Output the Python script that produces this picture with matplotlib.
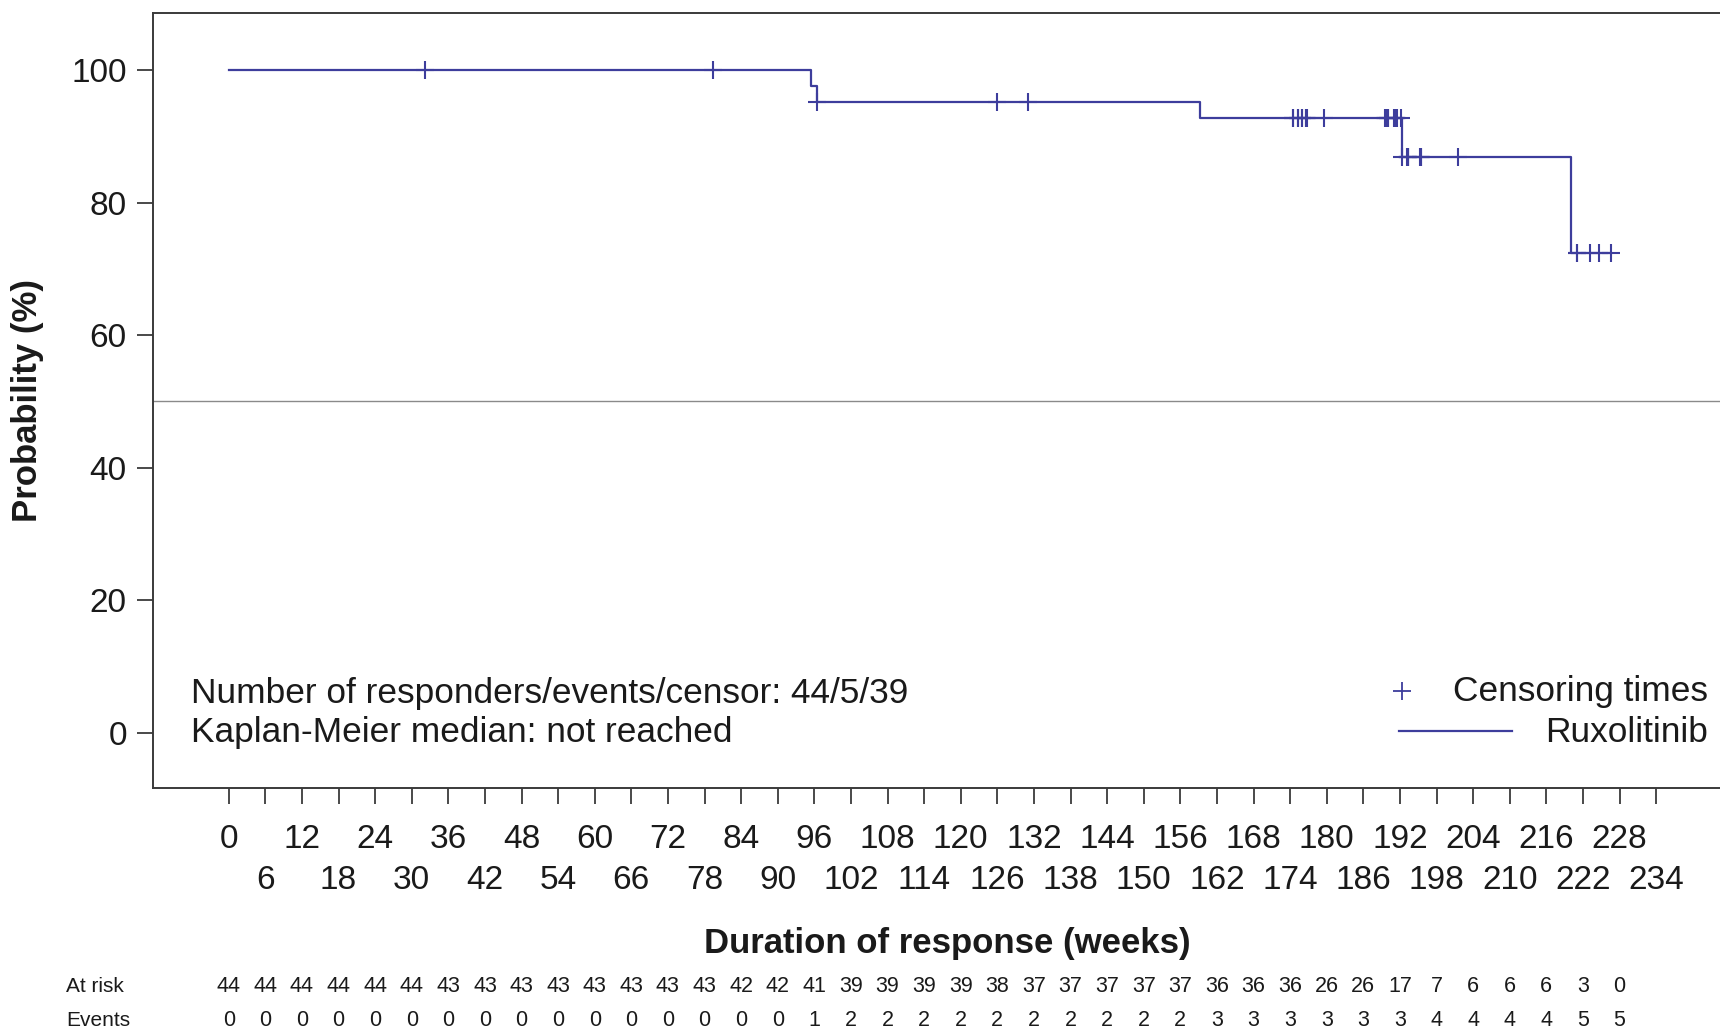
import matplotlib
matplotlib.use("Agg")
import matplotlib.pyplot as plt
import matplotlib.transforms as mtransforms
import numpy as np

plt.rcParams["font.family"] = ["Liberation Sans", "DejaVu Sans"]

# Kaplan-Meier steps for duration of response (weeks, %)
step_weeks = [0, 95.4, 96.5, 159.3, 192.4, 220.1]
step_surv = [100, 97.6, 95.2, 92.7, 86.9, 72.4]

# censored responders (weeks)
censor_weeks = [
    32.2, 79.4, 96.5, 125.9, 131.0,
    174.4, 174.5, 175.3, 175.3, 175.9, 175.9, 176.6, 176.6, 176.7, 179.5,
    189.6, 189.7, 190.0, 190.1, 191.1, 191.2, 191.3, 191.4, 191.5,
    192.1, 192.4, 193.2, 193.3, 193.3, 193.4, 195.3, 195.4, 195.5,
    201.5, 221.0, 221.1, 223.2, 224.6, 226.6,
]

table_weeks = list(range(0, 229, 6))
at_risk = [44, 44, 44, 44, 44, 44, 43, 43, 43, 43, 43, 43, 43, 43, 42, 42, 41,
           39, 39, 39, 39, 38, 37, 37, 37, 37, 37, 36, 36, 36, 26, 26, 17, 7,
           6, 6, 6, 3, 0]
events = [0, 0, 0, 0, 0, 0, 0, 0, 0, 0, 0, 0, 0, 0, 0, 0, 1,
          2, 2, 2, 2, 2, 2, 2, 2, 2, 2, 3, 3, 3, 3, 3, 3, 4,
          4, 4, 4, 5, 5]

major_weeks = list(range(0, 229, 12))
minor_weeks = list(range(6, 235, 12))
y_ticks = [0, 20, 40, 60, 80, 100]

curve_color = "#3d3d9c"
text_color = "#1a1a1a"
spine_color = "#3a3a3a"

W, H = 1720, 1033
fig = plt.figure(figsize=(W / 100, H / 100), dpi=100)

# axes box runs past the right edge of the page
left, right, top, bottom = 152.5, 1741.5, 13, 787.6
ax = fig.add_axes([left / W, 1 - bottom / H, (right - left) / W, (bottom - top) / H])
ax.set_xlim(-12.5, 248)
ax.set_ylim(-8.24, 108.6)

for sp in ax.spines.values():
    sp.set_color(spine_color)
    sp.set_linewidth(1.4)

ax.axhline(50, color="#8a8a8a", lw=1.0, zorder=1)

# survival curve, extended to last censored time
x_end = max(censor_weeks)
xs = list(step_weeks) + [x_end]
ys = list(step_surv) + [step_surv[-1]]
ax.step(xs, ys, where="post", color=curve_color, lw=1.6, zorder=3)

idx = np.searchsorted(step_weeks, censor_weeks, side="right") - 1
censor_y = np.asarray(step_surv)[idx]
ax.plot(censor_weeks, censor_y, ls="none", marker="+", ms=13.5, mew=1.5,
        color=curve_color, zorder=4)

ax.set_yticks(y_ticks)
ax.set_yticklabels([str(v) for v in y_ticks])
ax.tick_params(axis="y", length=11.5, width=1.3, color=spine_color,
               labelsize=24, labelcolor=text_color, pad=7)

ax.set_xticks(major_weeks)
ax.set_xticklabels([str(v) for v in major_weeks])
ax.set_xticks(minor_weeks, minor=True)
ax.set_xticklabels([str(v) for v in minor_weeks], minor=True)
ax.tick_params(axis="x", which="major", length=11.5, width=1.3, color=spine_color,
               labelsize=24, labelcolor=text_color, pad=15)
ax.tick_params(axis="x", which="minor", length=11.5, width=1.3, color=spine_color,
               labelsize=24, labelcolor=text_color, pad=44.5)

# summary text and legend inside the box
txt_y1, txt_y2 = 0.1215, 0.0706
ax.text(0.0242, txt_y1, "Number of responders/events/censor: 44/5/39",
        transform=ax.transAxes, fontsize=25.4, color=text_color, va="center", ha="left")
ax.text(0.0242, txt_y2, "Kaplan-Meier median: not reached",
        transform=ax.transAxes, fontsize=25.4, color=text_color, va="center", ha="left")

ax.plot([0.7863], [txt_y1 + 0.003], transform=ax.transAxes, ls="none", marker="+",
        ms=13.5, mew=1.3, color=curve_color)
ax.text(0.9789, txt_y1 + 0.003, "Censoring times", transform=ax.transAxes,
        fontsize=25.4, color=text_color, va="center", ha="right")
ax.plot([0.7842, 0.8554], [0.0736, 0.0736], transform=ax.transAxes,
        color=curve_color, lw=1.6)
ax.text(0.9789, txt_y2, "Ruxolitinib", transform=ax.transAxes, fontsize=25.4,
        color=text_color, va="center", ha="right")

fig.text(947.8 / W, 1 - 943 / H, "Duration of response (weeks)", fontsize=25,
         fontweight="bold", color=text_color, ha="center", va="center")
fig.text(27.4 / W, 1 - 400 / H, "Probability (%)", fontsize=25, fontweight="bold",
         color=text_color, ha="center", va="center", rotation=90)

# number at risk / cumulative events under the axis
trans = mtransforms.blended_transform_factory(ax.transData, fig.transFigure)
row_y = {"At risk": 1 - 986 / H, "Events": 1 - 1020 / H}
for name, vals in (("At risk", at_risk), ("Events", events)):
    fig.text(66 / W, row_y[name], name, fontsize=15, color=text_color,
             ha="left", va="center")
    for wk, v in zip(table_weeks, vals):
        ax.text(wk, row_y[name], str(v), transform=trans, fontsize=15.5,
                color=text_color, ha="center", va="center", clip_on=False)

fig.savefig("out.png", dpi=100)
